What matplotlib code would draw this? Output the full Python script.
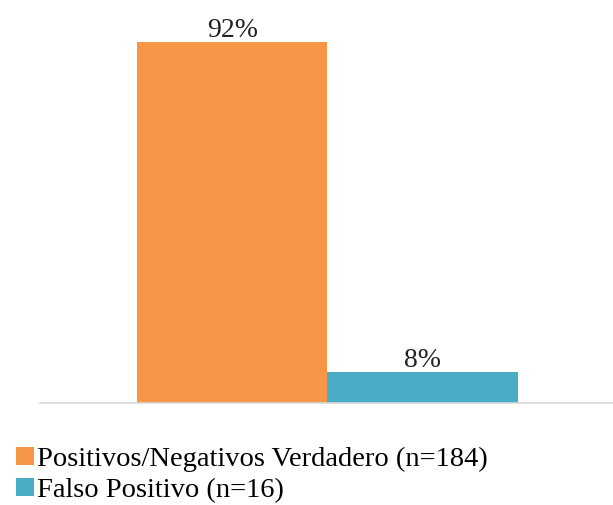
import matplotlib.pyplot as plt

plt.rcParams['font.family'] = ['Liberation Serif', 'DejaVu Serif']

# data
categorias = ["Positivos/Negativos Verdadero (n=184)", "Falso Positivo (n=16)"]
porcentajes = [92, 8]
colores = ["#F79646", "#4BACC6"]

fig = plt.figure(figsize=(6.13, 5.05), dpi=100)
ax = fig.add_axes([40 / 613, 102 / 505, 573 / 613, 392 / 505])

bars = ax.bar(range(len(categorias)), porcentajes, width=1.0, color=colores,
              label=categorias)
for b, v in zip(bars, porcentajes):
    ax.text(b.get_x() + b.get_width() / 2, v + 1.3, f"{v}%",
            ha="center", va="baseline", fontsize=20, color="#222222")

ax.set_xlim(-1.01, 2.0)
ax.set_ylim(0, 100)
for s in ["top", "right", "left"]:
    ax.spines[s].set_visible(False)
ax.spines["bottom"].set_color("#D9D9D9")
ax.spines["bottom"].set_linewidth(1.2)
ax.set_xticks([])
ax.set_yticks([])

fig.legend(handles=list(bars), labels=categorias, loc="upper left",
           bbox_to_anchor=(16 / 613, 1 - 447 / 505), frameon=False,
           fontsize=20.5, handlelength=0.62, handleheight=0.62,
           handletextpad=0.12, labelspacing=0.2, borderpad=0,
           borderaxespad=0)

fig.savefig("out.png", dpi=100)
